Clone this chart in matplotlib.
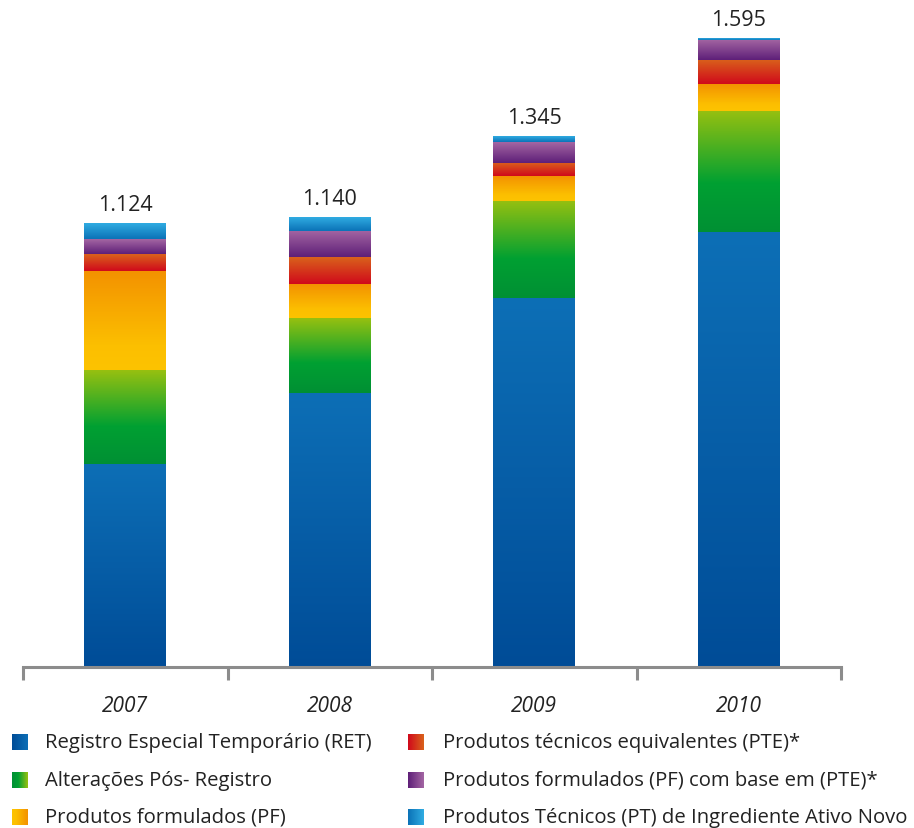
import numpy as np
import matplotlib
matplotlib.use('Agg')
import matplotlib.pyplot as plt
from matplotlib.colors import LinearSegmentedColormap

years = ['2007', '2008', '2009', '2010']
totals = [1124, 1140, 1345, 1595]
ret = [515, 695, 935, 1103]
pos_registro = [238, 190, 248, 307]
pf = [251, 86, 63, 68]
pte = [43, 68, 33, 61]
pf_pte = [38, 66, 53, 51]
pt_novo = [39, 35, 13, 5]

series = [ret, pos_registro, pf, pte, pf_pte, pt_novo]
labels = ['Registro Especial Temporário (RET)',
          'Alterações Pós- Registro',
          'Produtos formulados (PF)',
          'Produtos técnicos equivalentes (PTE)*',
          'Produtos formulados (PF) com base em (PTE)*',
          'Produtos Técnicos (PT) de Ingrediente Ativo Novo']

# gradient stops, bottom -> top
grads = [
    [(0, '#004C97'), (1, '#0D6FB6')],
    [(0, '#009034'), (0.4, '#00A032'), (1, '#97C010')],
    [(0, '#FDC300'), (0.25, '#FCBF00'), (1, '#F39200')],
    [(0, '#D0091C'), (1, '#D9621B')],
    [(0, '#5E1F78'), (1, '#A466A3')],
    [(0, '#0B72B7'), (1, '#30ACE2')],
]
cmaps = [LinearSegmentedColormap.from_list('g%d' % i, g) for i, g in enumerate(grads)]

plt.rcParams['font.family'] = ['Open Sans', 'DejaVu Sans']

W, H = 914, 829
fig = plt.figure(figsize=(W / 100, H / 100), dpi=100)
ax = fig.add_axes([23 / W, 161 / H, (841 - 23) / W, 1 - 161 / H])

x = np.arange(len(years))
width = 0.40
grad = np.linspace(0, 1, 256).reshape(-1, 1)
bottom = np.zeros(len(years))
for vals, cm in zip(series, cmaps):
    bars = ax.bar(x, vals, width, bottom=bottom, color='none', linewidth=0)
    for r in bars:
        x0, y0 = r.get_x(), r.get_y()
        ax.imshow(grad, cmap=cm, origin='lower', aspect='auto', interpolation='bicubic',
                  extent=(x0, x0 + r.get_width(), y0, y0 + r.get_height()), zorder=2)
    bottom += np.array(vals)

for xi, t in zip(x, totals):
    ax.annotate('{:,}'.format(t).replace(',', '.'), (xi, t), xytext=(0, 6),
                textcoords='offset points', ha='center', va='bottom',
                fontsize=15.5, color='#222222')

ax.set_xlim(-0.5, 3.5)
ax.set_ylim(0, 1694)
for s in ['top', 'right', 'left']:
    ax.spines[s].set_visible(False)
ax.spines['bottom'].set_color('#8c8c8c')
ax.spines['bottom'].set_linewidth(2.2)
ax.set_yticks([])
ax.set_xticks(np.arange(-0.5, 4, 1))
ax.set_xticklabels([])
ax.tick_params(axis='x', which='major', length=9, width=2.2, color='#8c8c8c', direction='out')
ax.set_xticks(x, minor=True)
ax.set_xticklabels(years, minor=True, fontsize=15, style='italic', color='#222222')
ax.tick_params(axis='x', which='minor', length=0, pad=20)

# legend
rows_y = [743, 781, 818]
cols = [(12, 45), (408, 443)]
for i, (lab, cm) in enumerate(zip(labels, cmaps)):
    mx, tx = cols[i // 3]
    yc = rows_y[i % 3]
    lax = fig.add_axes([mx / W, 1 - (yc + 8) / H, 16 / W, 16 / H])
    lax.imshow(np.linspace(0, 1, 64).reshape(1, -1), cmap=cm, aspect='auto', interpolation='bicubic')
    lax.axis('off')
    fig.text(tx / W, 1 - yc / H, lab, ha='left', va='center', fontsize=14.6, color='#222222')

fig.savefig('out.png', dpi=100)
